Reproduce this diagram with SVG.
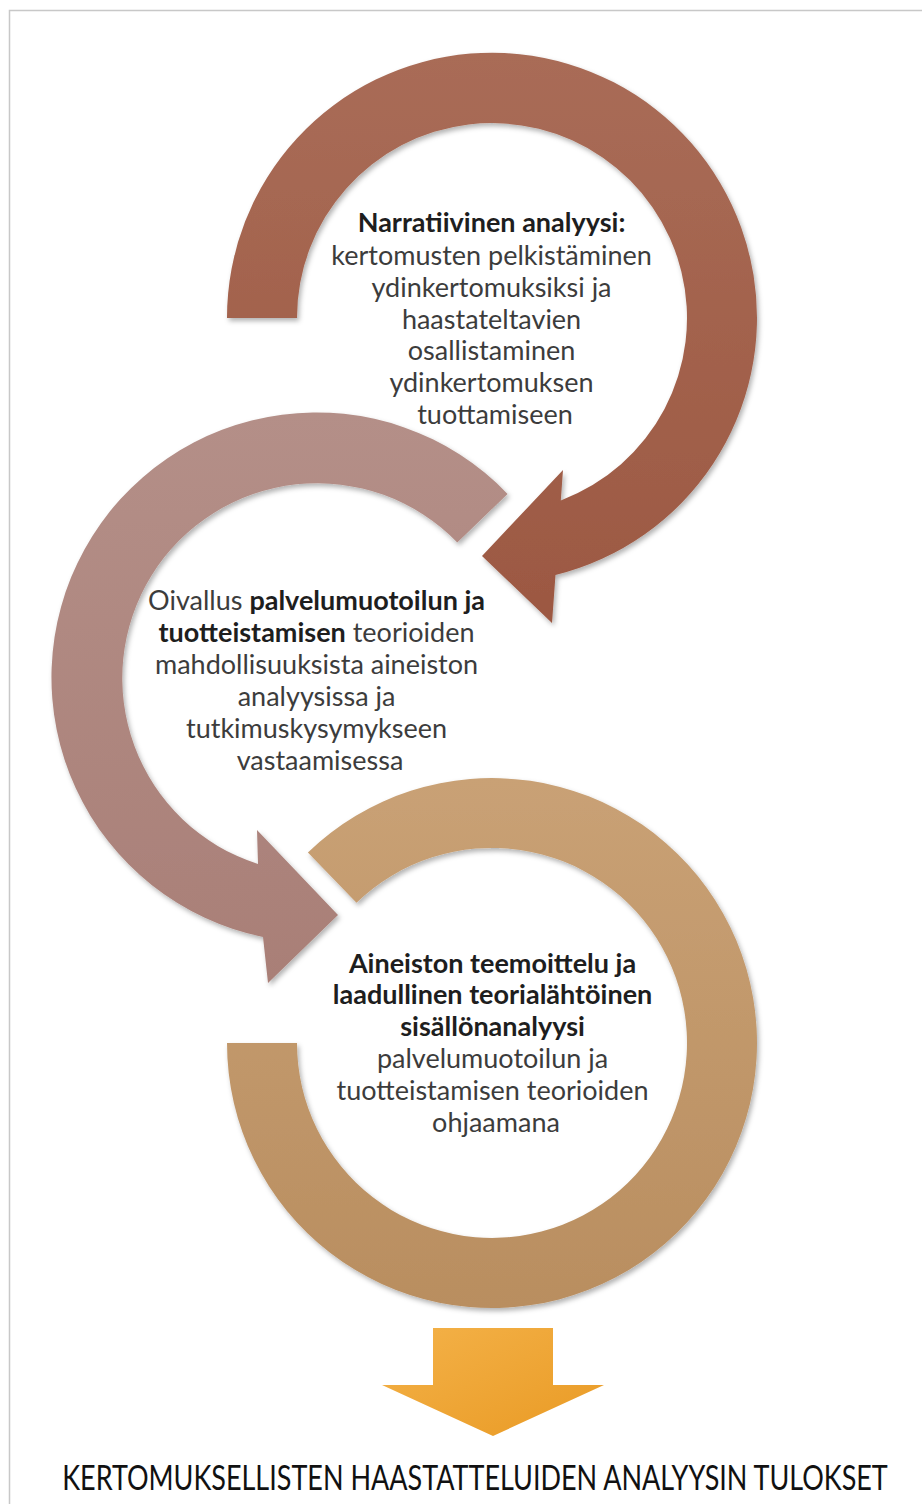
<svg xmlns="http://www.w3.org/2000/svg" width="922" height="1504" viewBox="0 0 922 1504">
  <style>
    .t { font-family: Lato, "Open Sans", "Liberation Sans", sans-serif; font-size: 27px; text-anchor: middle; fill: #3c3c3c; }
    .b { font-weight: bold; fill: #1e1e1e; }
    .res { font-family: Lato, "Open Sans", "Liberation Sans", sans-serif; font-size: 35px; fill: #111; text-anchor: middle; }
  </style>
  <defs>
    <filter id="shade" x="-10%" y="-10%" width="120%" height="120%">
      <feDropShadow dx="2" dy="3" stdDeviation="2.5" flood-color="#000" flood-opacity="0.3"/>
    </filter>
    <linearGradient id="g1" x1="0" y1="0" x2="0" y2="1">
      <stop offset="0" stop-color="#A96C57"/>
      <stop offset="1" stop-color="#9C5842"/>
    </linearGradient>
    <linearGradient id="g2" x1="0" y1="0" x2="0" y2="1">
      <stop offset="0" stop-color="#B48F88"/>
      <stop offset="1" stop-color="#A97F77"/>
    </linearGradient>
    <linearGradient id="g3" x1="0" y1="0" x2="0" y2="1">
      <stop offset="0" stop-color="#C9A175"/>
      <stop offset="1" stop-color="#B98E60"/>
    </linearGradient>
    <linearGradient id="g4" x1="0" y1="0" x2="1" y2="1">
      <stop offset="0" stop-color="#F4B249"/>
      <stop offset="1" stop-color="#E99A24"/>
    </linearGradient>
  </defs>

  <!-- frame -->
  <rect x="9.5" y="10.5" width="930" height="1510" fill="none" stroke="#c8c8c8" stroke-width="1.5"/>

  <!-- step 1: narrative analysis -->
  <g id="node-1">
    <path filter="url(#shade)" fill="url(#g1)"
      d="M227,318 A265,265 0 1 1 555.5,575 L552,623 L482,556 L563,470 L560.8,500.5 A195,195 0 1 0 297,318 Z"/>
    <text class="t">
      <tspan class="b" x="495" y="232">Narratiivinen analyysi:</tspan>
      <tspan x="495" y="265">kertomusten pelkistäminen</tspan>
      <tspan x="495" y="297">ydinkertomuksiksi ja</tspan>
      <tspan x="495" y="329">haastateltavien</tspan>
      <tspan x="495" y="360">osallistaminen</tspan>
      <tspan x="495" y="392">ydinkertomuksen</tspan>
      <tspan x="495" y="424">tuottamiseen</tspan>
    </text>
  </g>

  <!-- step 2: insight -->
  <g id="node-2">
    <path filter="url(#shade)" fill="url(#g2)"
      d="M507.6,493.9 A265,265 0 1 0 263,937 L268,983 L338,915 L257,830 L258,864 A195,195 0 1 1 457.3,542.5 Z"/>
    <text class="t">
      <tspan x="320" y="610">Oivallus <tspan class="b">palvelumuotoilun ja</tspan></tspan>
      <tspan x="320" y="642"><tspan class="b">tuotteistamisen</tspan> teorioiden</tspan>
      <tspan x="320" y="674">mahdollisuuksista aineiston</tspan>
      <tspan x="320" y="706">analyysissa ja</tspan>
      <tspan x="320" y="738">tutkimuskysymykseen</tspan>
      <tspan x="320" y="770">vastaamisessa</tspan>
    </text>
  </g>

  <!-- step 3: thematic content analysis -->
  <g id="node-3">
    <path filter="url(#shade)" fill="url(#g3)"
      d="M307.9,852.4 A265,265 0 1 1 227,1043 L297,1043 A195,195 0 1 0 356.5,902.7 Z"/>
    <text class="t">
      <tspan class="b" x="496" y="973">Aineiston teemoittelu ja</tspan>
      <tspan class="b" x="496" y="1004">laadullinen teorialähtöinen</tspan>
      <tspan class="b" x="496" y="1036">sisällönanalyysi</tspan>
      <tspan x="496" y="1068">palvelumuotoilun ja</tspan>
      <tspan x="496" y="1100">tuotteistamisen teorioiden</tspan>
      <tspan x="496" y="1132">ohjaamana</tspan>
    </text>
  </g>

  <!-- connector to the results -->
  <g id="connectors">
    <path fill="url(#g4)" d="M433,1328 L553,1328 L553,1385 L604,1385 L493,1436 L382,1385 L433,1385 Z"/>
  </g>

  <!-- results: narrow caps line, squeezed horizontally -->
  <g id="node-result">
    <text class="res" transform="translate(475,1490) scale(0.8,1)" x="0" y="0" textLength="1032" lengthAdjust="spacingAndGlyphs">KERTOMUKSELLISTEN HAASTATTELUIDEN ANALYYSIN TULOKSET</text>
  </g>
</svg>
